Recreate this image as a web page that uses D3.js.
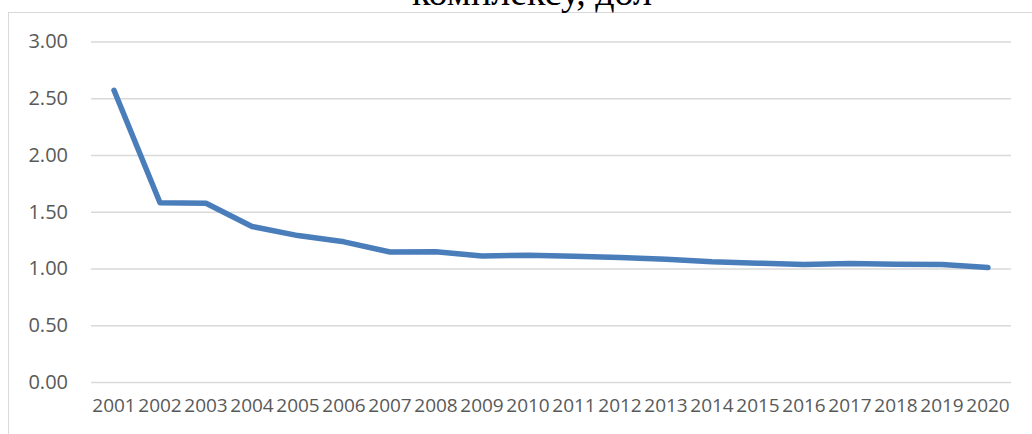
<!DOCTYPE html>
<html>
<head>
<meta charset="utf-8">
<script src="https://cdn.jsdelivr.net/npm/d3@7"></script>
<style>
  html, body { margin: 0; padding: 0; background: #fff; }
  svg { display: block; }
</style>
</head>
<body>
<svg id="chart" width="1032" height="434"></svg>
<script>
// Years on the horizontal axis
const years = ["2001","2002","2003","2004","2005","2006","2007","2008","2009","2010",
               "2011","2012","2013","2014","2015","2016","2017","2018","2019","2020"];
// Ratio values per year
const values = [2.57, 1.58, 1.575, 1.37, 1.29, 1.235, 1.145, 1.147, 1.11, 1.117,
                1.108, 1.098, 1.082, 1.06, 1.047, 1.035, 1.043, 1.037, 1.035, 1.008];
// Y axis ticks
const yTicks = [0, 0.5, 1, 1.5, 2, 2.5, 3];
// Title (only its last line falls inside the frame)
const titleText = "комплексу, дол";

const svg = d3.select("#chart");
const W = 1032, H = 434;
const plot = { left: 91, right: 1011, top: 41.5, bottom: 382 };

const x = d3.scaleBand().domain(years).range([plot.left, plot.right]).padding(0);
const y = d3.scaleLinear().domain([0, 3]).range([plot.bottom, plot.top]);

// Chart frame edges
svg.append("line").attr("x1", 8.5).attr("x2", 8.5).attr("y1", 12).attr("y2", H)
  .attr("stroke", "#d9d9d9").attr("stroke-width", 1);
svg.append("line").attr("x1", 8).attr("x2", W).attr("y1", 12.5).attr("y2", 12.5)
  .attr("stroke", "#d9d9d9").attr("stroke-width", 1);

// Title
svg.append("text")
  .attr("x", 532).attr("y", 5)
  .attr("text-anchor", "middle")
  .attr("font-family", "'Liberation Serif', 'Times New Roman', serif")
  .attr("font-size", 38)
  .attr("fill", "#000")
  .text(titleText);

// Horizontal gridlines + y labels
const yAxis = d3.axisLeft(y).tickValues(yTicks)
  .tickSize(-(plot.right - plot.left))
  .tickPadding(23)
  .tickFormat(d3.format(".2f"));
const gy = svg.append("g").attr("transform", `translate(${plot.left},0)`).call(yAxis);
gy.select(".domain").remove();
gy.selectAll(".tick line").attr("stroke", "#d9d9d9").attr("stroke-width", 1.5);
gy.selectAll(".tick text")
  .attr("font-family", "'Open Sans', 'Liberation Sans', sans-serif")
  .attr("font-size", 20).attr("fill", "#595959");

// X labels
const xAxis = d3.axisBottom(x).tickSize(0).tickPadding(17);
const gx = svg.append("g").attr("transform", `translate(0,${plot.bottom})`).call(xAxis);
gx.select(".domain").remove();
gx.selectAll(".tick text")
  .attr("font-family", "'Open Sans', 'Liberation Sans', sans-serif")
  .attr("font-size", 19).attr("fill", "#595959");

// Data line
const line = d3.line()
  .x((d, i) => x(years[i]) + x.bandwidth() / 2)
  .y(d => y(d));
svg.append("path")
  .datum(values)
  .attr("d", line)
  .attr("fill", "none")
  .attr("stroke", "#4a7ebb")
  .attr("stroke-width", 5.5)
  .attr("stroke-linejoin", "round")
  .attr("stroke-linecap", "round");
</script>
</body>
</html>
